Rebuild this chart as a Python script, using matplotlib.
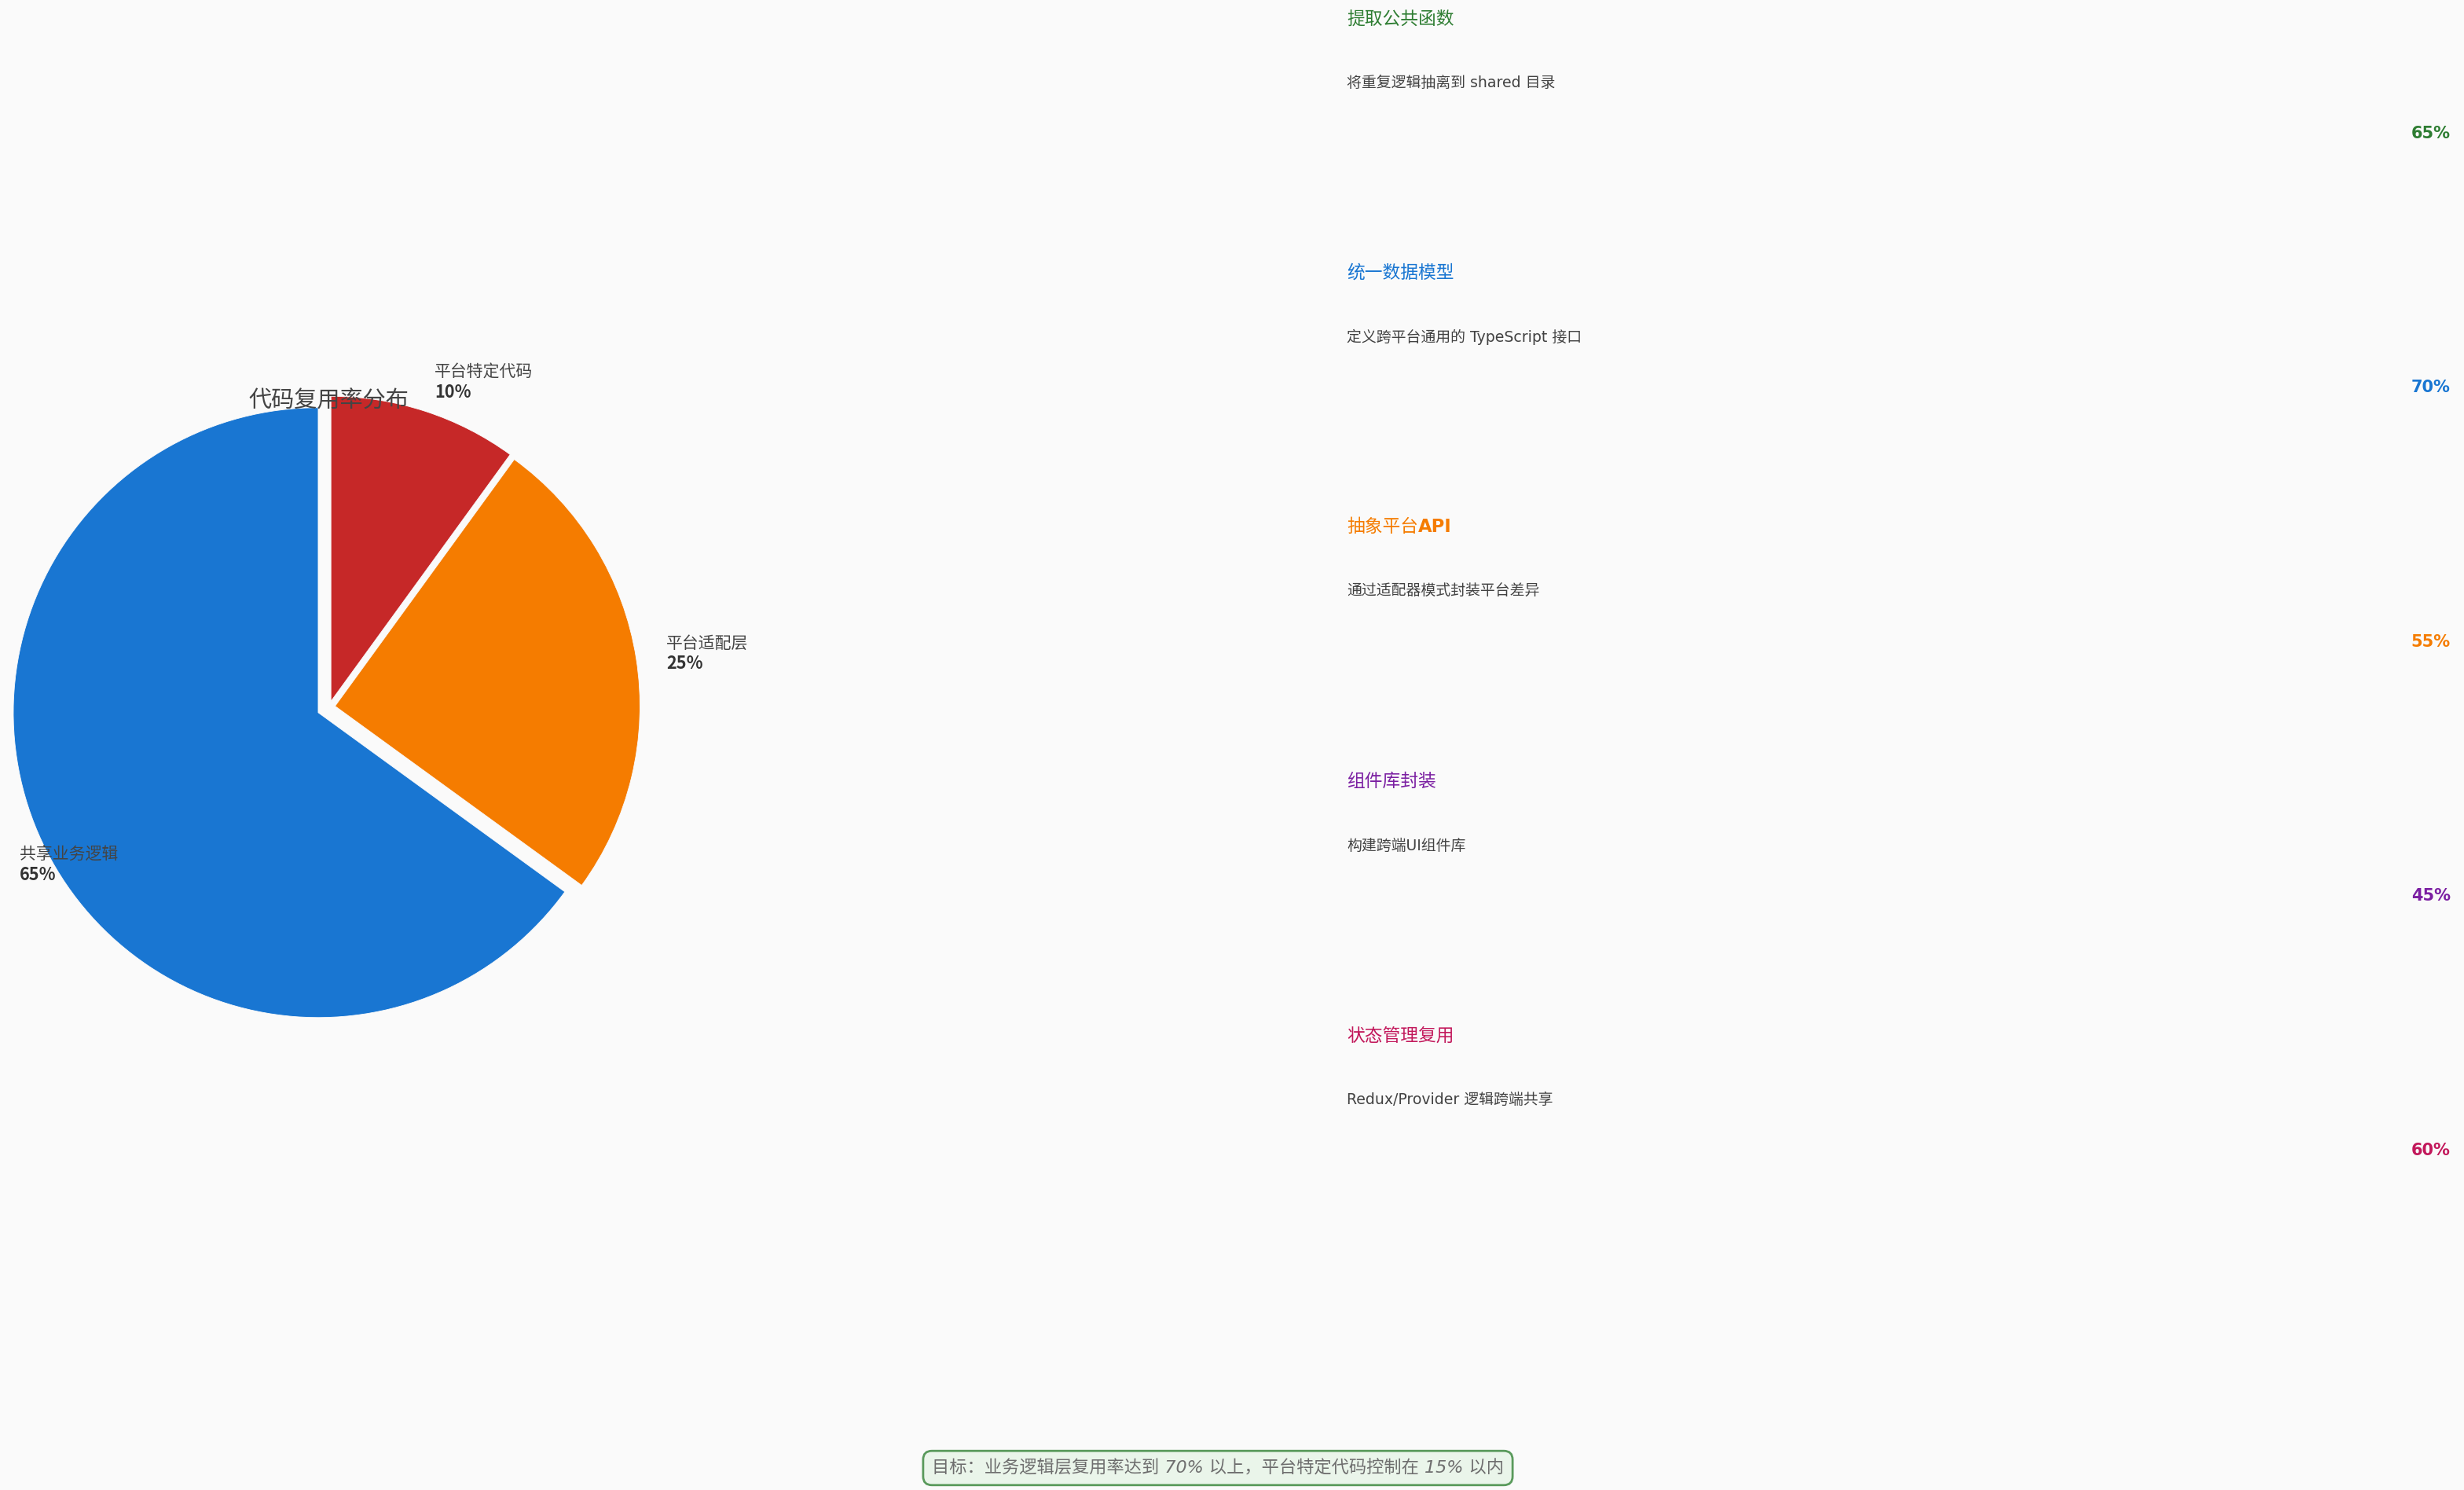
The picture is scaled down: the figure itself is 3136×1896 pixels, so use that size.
import re
import numpy as np
import matplotlib
matplotlib.use("Agg")
import matplotlib.pyplot as plt

plt.rcParams['font.family'] = ['DejaVu Sans', 'Noto Sans CJK SC']
CJK = ['Noto Sans CJK SC', 'DejaVu Sans']

# ---------------- data ----------------
pie_labels = ['共享业务逻辑', '平台适配层', '平台特定代码']
pie_values = [65, 25, 10]
pie_colors = ['#1976D2', '#F57C00', '#C62828']
pie_explode = [0.04, 0.02, 0.02]
pie_title = '代码复用率分布'

strategy_titles = ['提取公共函数', '统一数据模型', '抽象平台API', '组件库封装', '状态管理复用']
strategy_descs = ['将重复逻辑抽离到 shared 目录', '定义跨平台通用的 TypeScript 接口',
                  '通过适配器模式封装平台差异', '构建跨端UI组件库', 'Redux/Provider 逻辑跨端共享']
strategy_rates = [65, 70, 55, 45, 60]
strategy_colors = ['#2E7D32', '#1976D2', '#F57C00', '#7B1FA2', '#C2185B']

footer_text = '目标：业务逻辑层复用率达到 70% 以上，平台特定代码控制在 15% 以内'

# ---------------- figure ----------------
W, H, DPI = 3136, 1896, 200
fig = plt.figure(figsize=(W / DPI, H / DPI), dpi=DPI, facecolor='#FAFAFA')

# pie axes (pixel layout)
cx, cy, R = 418.8, 899.7, 388.0
ax_left, ax_right = 0.0, 900.0
ax_top, ax_bot = cy - 1.2 * R, cy + 1.2 * R
ax = fig.add_axes([ax_left / W, (H - ax_bot) / H, (ax_right - ax_left) / W, (ax_bot - ax_top) / H])
ax.set_facecolor('none')
wedges, _ = ax.pie(pie_values, colors=pie_colors, explode=pie_explode, startangle=90,
                   radius=1.0, wedgeprops=dict(edgecolor='#FAFAFA', linewidth=0.3))
ax.set_aspect('auto')
ax.set_xlim((ax_left - cx) / R, (ax_right - cx) / R)
ax.set_ylim(-1.2, 1.2)
ax.axis('off')

for w, name, val in zip(wedges, pie_labels, pie_values):
    th = np.deg2rad((w.theta1 + w.theta2) / 2)
    x0, y0 = w.center
    lx = x0 + 1.1 * w.r * np.cos(th)
    ly = y0 + 1.1 * w.r * np.sin(th)
    ax.text(lx, ly + 0.004, name, ha='left', va='bottom', fontsize=7.5, color='#444444', family=CJK)
    ax.text(lx, ly - 0.004, f'{val}%', ha='left', va='top', fontsize=7.8, color='#333333',
            fontweight='bold', family=CJK)

ax.text(0, 1.004, pie_title, ha='center', va='center', fontsize=10.5, color='#444444', family=CJK)

# right-side strategy list (pixel overlay)
ov = fig.add_axes([0, 0, 1, 1])
ov.set_xlim(0, W)
ov.set_ylim(H, 0)
ov.axis('off')
ov.set_facecolor('none')


def mixed_title(x, y, s, color, size):
    """CJK runs in regular weight, Latin runs bold (as the reference renders)."""
    runs = re.findall(r'[\x00-\x7f]+|[^\x00-\x7f]+', s)
    prev = None
    for run in runs:
        latin = run[0] < '\x80'
        kw = dict(fontsize=size, color=color, fontweight='bold' if latin else 'normal',
                  family=['DejaVu Sans'] if latin else CJK)
        if prev is None:
            prev = ov.text(x, y, run, ha='left', va='center', **kw)
        else:
            prev = ov.annotate(run, xy=(1, 0.5), xycoords=prev, ha='left', va='center', **kw)


x_text, x_pct = 1714, 3119
y0, step = 23.8, 323.5
for i, (t, d, r, c) in enumerate(zip(strategy_titles, strategy_descs, strategy_rates, strategy_colors)):
    yb = y0 + i * step
    mixed_title(x_text, yb, t, c, 8.2)
    ov.text(x_text, yb + 82, d, ha='left', va='center', fontsize=6.8, color='#424242')
    ov.text(x_pct, yb + 146, f'{r}%', ha='right', va='center', fontsize=7.5, color=c, fontweight='bold')

ov.text(1550, 1868, footer_text, ha='center', va='center', fontsize=8.0, color='#6E6E6E',
        style='italic',
        bbox=dict(boxstyle='round,pad=0.5', facecolor='#EAF5EA', edgecolor='#5A9A5C', linewidth=1.0))

fig.savefig('out.png', dpi=DPI, facecolor=fig.get_facecolor())
